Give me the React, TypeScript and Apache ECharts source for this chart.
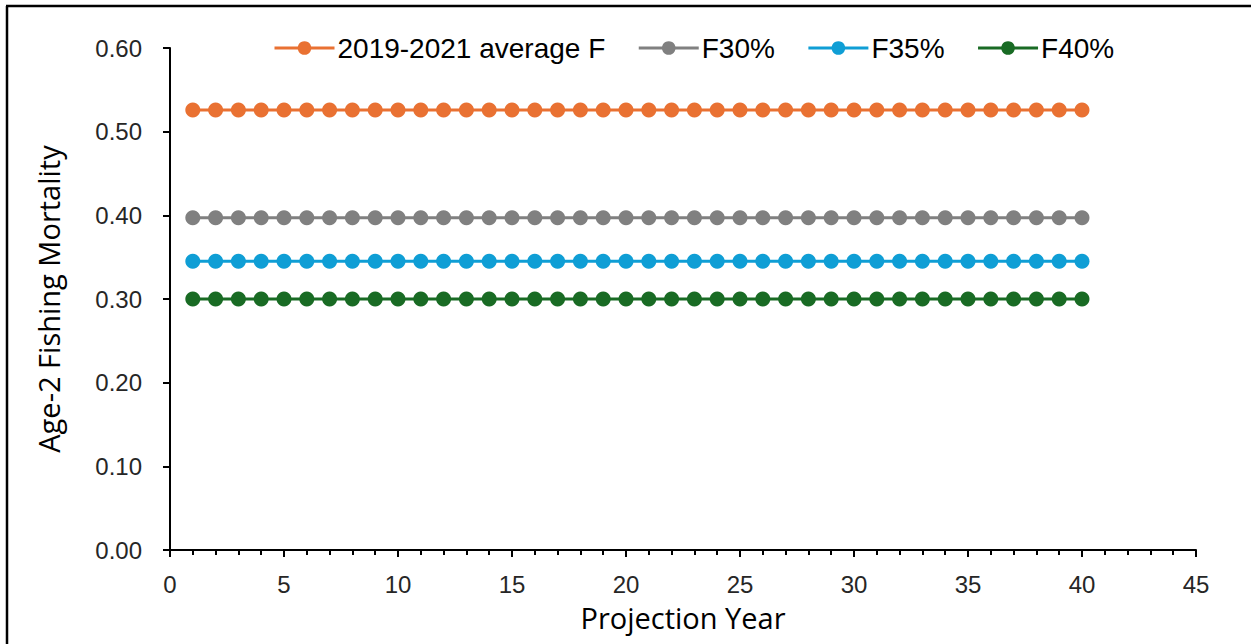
import React, { useEffect, useRef } from "react";
import * as echarts from "echarts";

const years = [1, 2, 3, 4, 5, 6, 7, 8, 9, 10, 11, 12, 13, 14, 15, 16, 17, 18, 19, 20, 21, 22, 23, 24, 25, 26, 27, 28, 29, 30, 31, 32, 33, 34, 35, 36, 37, 38, 39, 40];
const avgF = [0.526, 0.526, 0.526, 0.526, 0.526, 0.526, 0.526, 0.526, 0.526, 0.526, 0.526, 0.526, 0.526, 0.526, 0.526, 0.526, 0.526, 0.526, 0.526, 0.526, 0.526, 0.526, 0.526, 0.526, 0.526, 0.526, 0.526, 0.526, 0.526, 0.526, 0.526, 0.526, 0.526, 0.526, 0.526, 0.526, 0.526, 0.526, 0.526, 0.526];
const f30 = [0.397, 0.397, 0.397, 0.397, 0.397, 0.397, 0.397, 0.397, 0.397, 0.397, 0.397, 0.397, 0.397, 0.397, 0.397, 0.397, 0.397, 0.397, 0.397, 0.397, 0.397, 0.397, 0.397, 0.397, 0.397, 0.397, 0.397, 0.397, 0.397, 0.397, 0.397, 0.397, 0.397, 0.397, 0.397, 0.397, 0.397, 0.397, 0.397, 0.397];
const f35 = [0.345, 0.345, 0.345, 0.345, 0.345, 0.345, 0.345, 0.345, 0.345, 0.345, 0.345, 0.345, 0.345, 0.345, 0.345, 0.345, 0.345, 0.345, 0.345, 0.345, 0.345, 0.345, 0.345, 0.345, 0.345, 0.345, 0.345, 0.345, 0.345, 0.345, 0.345, 0.345, 0.345, 0.345, 0.345, 0.345, 0.345, 0.345, 0.345, 0.345];
const f40 = [0.300, 0.300, 0.300, 0.300, 0.300, 0.300, 0.300, 0.300, 0.300, 0.300, 0.300, 0.300, 0.300, 0.300, 0.300, 0.300, 0.300, 0.300, 0.300, 0.300, 0.300, 0.300, 0.300, 0.300, 0.300, 0.300, 0.300, 0.300, 0.300, 0.300, 0.300, 0.300, 0.300, 0.300, 0.300, 0.300, 0.300, 0.300, 0.300, 0.300];

const seriesNames = ["2019-2021 average F", "F30%", "F35%", "F40%"];
const seriesColors = ["#E97132", "#808080", "#0F9ED5", "#196B24"];
const seriesValues = [avgF, f30, f35, f40];

const FONT = "'Liberation Sans', Arial, sans-serif";
const TITLE_FONT = "'Open Sans', 'Liberation Sans', sans-serif";

export default function App() {
  const ref = useRef<HTMLDivElement>(null);
  useEffect(() => {
    if (!ref.current) return;
    const chart = echarts.init(ref.current, null, { renderer: "svg" });
    chart.setOption({
      animation: false,
      backgroundColor: "#ffffff",
      graphic: [
        { type: "line", shape: { x1: 6, y1: 6, x2: 1251, y2: 6 }, style: { stroke: "#000", lineWidth: 2.5 } },
        { type: "line", shape: { x1: 7, y1: 6, x2: 7, y2: 644 }, style: { stroke: "#000", lineWidth: 2.5 } },
      ],
      legend: {
        top: 29,
        left: 268,
        itemWidth: 60,
        itemHeight: 17,
        itemGap: 32,
        data: seriesNames,
        lineStyle: { width: 3 },
        textStyle: { fontFamily: FONT, fontSize: 28, color: "#000", padding: [0, 0, 0, -2] },
      },
      grid: { left: 170, right: 55, top: 48, bottom: 94 },
      xAxis: {
        type: "value",
        min: 0,
        max: 45,
        interval: 5,
        name: "Projection Year",
        nameLocation: "middle",
        nameGap: 53,
        nameTextStyle: { fontFamily: TITLE_FONT, fontSize: 29, color: "#000" },
        axisLine: { show: true, lineStyle: { color: "#000", width: 2 } },
        axisTick: { show: true, length: 7, lineStyle: { color: "#000", width: 2 } },
        minorTick: { show: true, splitNumber: 5, length: 5, lineStyle: { color: "#000", width: 2 } },
        axisLabel: { fontFamily: FONT, fontSize: 24, color: "#262626", margin: 22 },
        splitLine: { show: false },
      },
      yAxis: {
        type: "value",
        min: 0,
        max: 0.6,
        interval: 0.1,
        name: "Age-2 Fishing Mortality",
        nameLocation: "middle",
        nameGap: 107,
        nameTextStyle: { fontFamily: TITLE_FONT, fontSize: 29, color: "#000" },
        axisLine: { show: true, lineStyle: { color: "#000", width: 2 } },
        axisTick: { show: true, length: 7, lineStyle: { color: "#000", width: 2 } },
        axisLabel: {
          fontFamily: FONT,
          fontSize: 24,
          color: "#262626",
          margin: 28,
          formatter: (v: number) => v.toFixed(2),
        },
        splitLine: { show: false },
      },
      series: seriesNames.map((name, i) => ({
        name,
        type: "line",
        data: years.map((y, j) => [y, seriesValues[i][j]]),
        symbol: "circle",
        symbolSize: 15,
        itemStyle: { color: seriesColors[i] },
        lineStyle: { color: seriesColors[i], width: 3 },
      })),
    });
    return () => chart.dispose();
  }, []);
  return (
    <div
      ref={ref}
      style={{ position: "absolute", left: 0, top: 0, width: 1251, height: 644 }}
    />
  );
}
